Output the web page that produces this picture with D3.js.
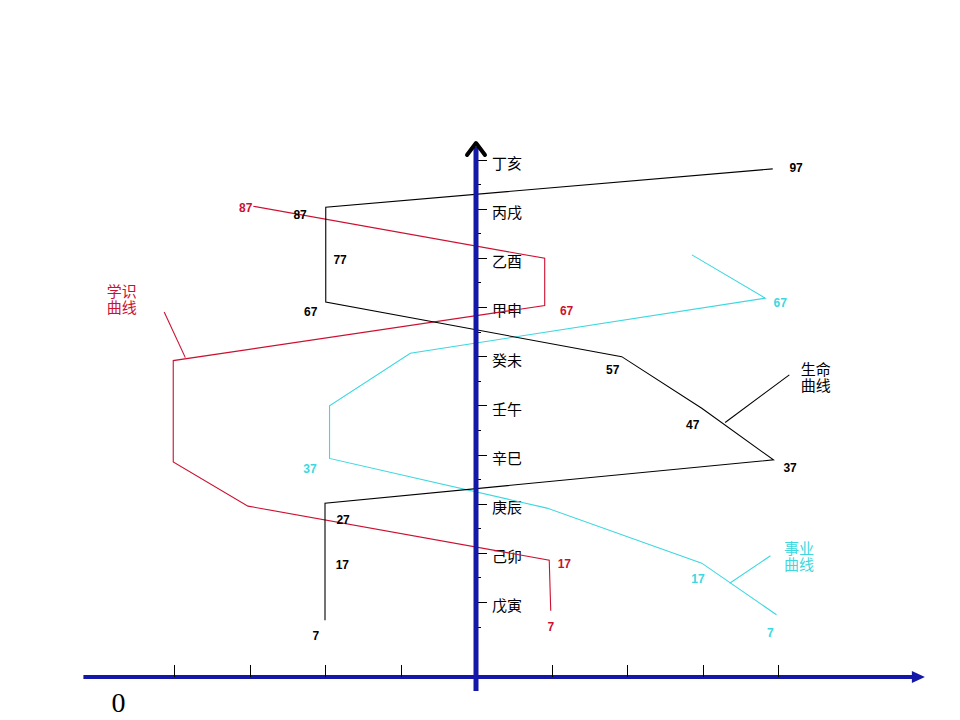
<!DOCTYPE html>
<html lang="zh">
<head>
  <meta charset="UTF-8" />
  <title>生命 学识 事业 曲线</title>
  <script src="https://d3js.org/d3.v7.min.js"></script>
  <style>
    body {
      margin: 0;
      background-color: #fff;
    }

    svg {
      display: block;
      background-color: #fff;
    }

    .num {
      font-family: "Liberation Sans", Arial, sans-serif;
      font-size: 12px;
      font-weight: bold;
    }

    .cjk {
      font-family: "Noto Sans CJK SC", sans-serif;
      font-size: 15px;
    }

    .curve {
      fill: none;
      stroke-width: 1.1px;
    }
  </style>
</head>
<body>
  <svg width="960" height="720"></svg>

  <script>
    // vertical axis: 大运 periods and the age each one starts
    const periods = ["戊寅", "己卯", "庚辰", "辛巳", "壬午", "癸未", "甲申", "乙酉", "丙戌", "丁亥"];
    const periodAges = [7, 17, 27, 37, 47, 57, 67, 77, 87, 97];
    const levelTicks = [-4, -3, -2, -1, 1, 2, 3, 4];

    // 生命曲线 (black)
    const lifeLevel = [-2, -2, 3.94, 2.99, 1.93, -1.99, -1.99, 3.93];
    const lifeAge = [3.3, 27.1, 35.9, 46.4, 56.9, 68.0, 87.3, 95.1];
    const lifeLabelText = ["7", "17", "27", "37", "47", "57", "67", "77", "87", "97"];
    const lifeLabelLevel = [-2.12, -1.77, -1.76, 4.16, 2.87, 1.81, -2.19, -1.80, -2.33, 4.24];
    const lifeLabelAge = [0.1, 14.5, 23.7, 34.3, 43.0, 54.2, 66.0, 76.6, 85.7, 95.3];

    // 学识曲线 (red)
    const studyLevel = [0.99, 0.97, -3.02, -4.01, -4.01, 0.91, 0.91, -2.95];
    const studyAge = [5.2, 15.5, 26.5, 35.5, 56.1, 67.3, 76.9, 87.5];
    const studyLabelText = ["7", "17", "67", "87"];
    const studyLabelLevel = [0.99, 1.17, 1.20, -3.05];
    const studyLabelAge = [1.9, 14.7, 66.2, 87.3];

    // 事业曲线 (cyan)
    const careerLevel = [3.98, 2.99, 0.94, -1.94, -1.94, -0.87, 3.83, 2.86];
    const careerAge = [4.4, 14.9, 26.1, 36.2, 46.9, 57.6, 68.8, 77.6];
    const careerLabelText = ["7", "17", "37", "67"];
    const careerLabelLevel = [3.90, 2.94, -2.20, 4.03];
    const careerLabelAge = [0.8, 11.7, 34.2, 67.8];

    const red = "#cc1030";
    const cyan = "#3cd8e0";
    const blue = "#1418a8";

    const svg = d3.select("svg");

    const x = d3.scaleLinear().domain([-4, 4]).range([174, 778]);
    const y = d3.scaleLinear().domain([7, 97]).range([602, 159.5]);

    const axisY = 677;
    const axisX = x(0);

    // curve name tags with leader lines
    const tags = [
      { name: ["学识", "曲线"], color: red, at: [-4.89, 69.0], from: [-4.13, 66.0], to: [-3.85, 56.7] },
      { name: ["生命", "曲线"], color: "#000", at: [4.30, 53.2], from: [3.30, 43.5], to: [4.15, 53.2] },
      { name: ["事业", "曲线"], color: cyan, at: [4.08, 16.8], from: [3.36, 10.8], to: [3.90, 16.4] }
    ];

    // horizontal axis
    const hStart = x(-5.2), hEnd = x(5.8);
    svg.append("line")
      .attr("x1", hStart).attr("x2", hEnd)
      .attr("y1", axisY).attr("y2", axisY)
      .attr("stroke", blue).attr("stroke-width", 4);
    svg.append("path")
      .attr("d", `M${hEnd - 2},${axisY - 6} L${hEnd + 11},${axisY} L${hEnd - 2},${axisY + 6} Z`)
      .attr("fill", blue);

    svg.selectAll(".htick")
      .data(levelTicks)
      .enter().append("line")
      .attr("class", "htick")
      .attr("x1", d => Math.round(x(d)) + 0.5).attr("x2", d => Math.round(x(d)) + 0.5)
      .attr("y1", axisY - 12).attr("y2", axisY)
      .attr("stroke", "#000").attr("stroke-width", 1);

    svg.append("text")
      .attr("x", hStart + 35).attr("y", axisY + 35)
      .attr("text-anchor", "middle")
      .style("font-family", "'Liberation Serif', 'Times New Roman', serif")
      .style("font-size", "28px")
      .text("0");

    // vertical axis ticks
    const minorAges = periodAges.map(a => a - 5).concat([92]);
    svg.selectAll(".vminor")
      .data(minorAges)
      .enter().append("line")
      .attr("class", "vminor")
      .attr("x1", axisX).attr("x2", axisX + 5)
      .attr("y1", d => Math.round(y(d)) + 0.5).attr("y2", d => Math.round(y(d)) + 0.5)
      .attr("stroke", "#000").attr("stroke-width", 1);

    svg.selectAll(".vtick")
      .data(periodAges)
      .enter().append("line")
      .attr("class", "vtick")
      .attr("x1", axisX).attr("x2", axisX + 11)
      .attr("y1", d => Math.round(y(d)) + 0.5).attr("y2", d => Math.round(y(d)) + 0.5)
      .attr("stroke", "#000").attr("stroke-width", 1);

    svg.selectAll(".period")
      .data(periods)
      .enter().append("text")
      .attr("class", "cjk period")
      .attr("x", axisX + 16)
      .attr("y", (d, i) => y(periodAges[i]) + 4)
      .attr("dy", "0.36em")
      .attr("fill", "#000")
      .text(d => d);

    // curves
    const line = d3.line()
      .x(d => x(d[0]))
      .y(d => y(d[1]));

    const curves = [
      { level: studyLevel, age: studyAge, color: red },
      { level: careerLevel, age: careerAge, color: cyan },
      { level: lifeLevel, age: lifeAge, color: "#000" }
    ];

    svg.selectAll(".curve")
      .data(curves)
      .enter().append("path")
      .attr("class", "curve")
      .attr("stroke", d => d.color)
      .attr("d", d => line(d3.zip(d.level, d.age)));

    // point labels
    const labelSets = [
      { text: lifeLabelText, level: lifeLabelLevel, age: lifeLabelAge, color: "#000" },
      { text: studyLabelText, level: studyLabelLevel, age: studyLabelAge, color: red },
      { text: careerLabelText, level: careerLabelLevel, age: careerLabelAge, color: cyan }
    ];

    labelSets.forEach(set => {
      svg.append("g")
        .selectAll("text")
        .data(set.text)
        .enter().append("text")
        .attr("class", "num")
        .attr("x", (d, i) => x(set.level[i]))
        .attr("y", (d, i) => y(set.age[i]))
        .attr("dy", "0.36em")
        .attr("text-anchor", "middle")
        .attr("fill", set.color)
        .text(d => d);
    });

    // tags
    tags.forEach(t => {
      svg.append("line")
        .attr("x1", x(t.from[0])).attr("y1", y(t.from[1]))
        .attr("x2", x(t.to[0])).attr("y2", y(t.to[1]))
        .attr("stroke", t.color).attr("stroke-width", 1.1);

      const txt = svg.append("text")
        .attr("class", "cjk")
        .attr("fill", t.color)
        .attr("x", x(t.at[0]))
        .attr("y", y(t.at[1]))
        .attr("dy", "0.36em");
      txt.selectAll("tspan")
        .data(t.name)
        .enter().append("tspan")
        .attr("x", x(t.at[0]))
        .attr("dy", (d, i) => i === 0 ? 0 : "1.07em")
        .text(d => d);
    });

    // vertical axis on top, with its chevron head
    svg.append("line")
      .attr("x1", axisX).attr("x2", axisX)
      .attr("y1", axisY + 14).attr("y2", 147)
      .attr("stroke", blue).attr("stroke-width", 5);
    svg.append("path")
      .attr("d", `M${axisX - 9},155 L${axisX},143 L${axisX + 9},155`)
      .attr("fill", "none")
      .attr("stroke", "#000")
      .attr("stroke-width", 4)
      .attr("stroke-linecap", "round")
      .attr("stroke-linejoin", "round");
  </script>
</body>
</html>
